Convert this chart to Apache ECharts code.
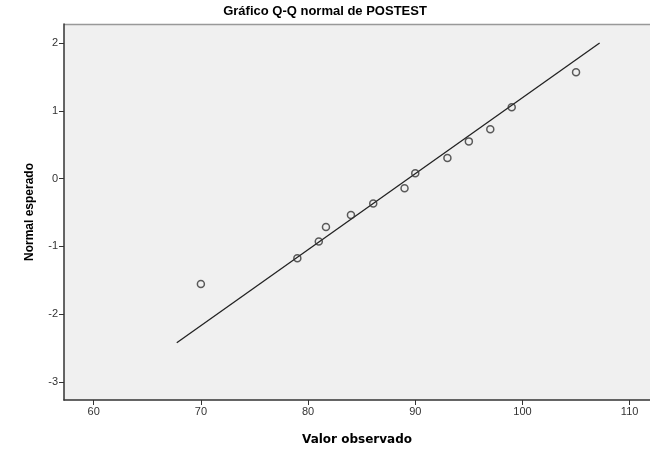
<!DOCTYPE html>
<html>
<head>
<meta charset="utf-8">
<script src="https://cdn.jsdelivr.net/npm/echarts@6/dist/echarts.min.js"></script>
<style>
  html, body { margin: 0; padding: 0; background: #fff; }
  #main { width: 650px; height: 451px; }
</style>
</head>
<body>
<div id="main"></div>
<script>
// valores observados y normal esperado
const observed = [70, 79, 81, 81.67, 84, 86.08, 89, 90, 93, 95, 97, 99, 105];
const expected = [-1.555, -1.176, -0.926, -0.712, -0.535, -0.368, -0.143, 0.078, 0.303, 0.549, 0.729, 1.053, 1.568];
// recta de referencia
const lineX = [67.75, 107.2];
const lineY = [-2.42, 2.0];
const xTicks = [60, 70, 80, 90, 100, 110];
const yTicks = [-3, -2, -1, 0, 1, 2];

const chart = echarts.init(document.getElementById('main'));

const option = {
  backgroundColor: '#ffffff',
  animation: false,
  title: {
    text: 'Gráfico Q-Q normal de POSTEST',
    left: 'center',
    top: 0,
    textStyle: {fontFamily: 'Liberation Sans', fontSize: 13, fontWeight: 'bold', color: '#000'}
  },
  grid: {left: 64, top: 24, right: 0, bottom: 50, show: true, backgroundColor: '#f0f0f0', borderWidth: 0},
  xAxis: {
    type: 'value',
    min: 57.23,
    max: 111.9,
    name: 'Valor observado',
    nameLocation: 'middle',
    nameGap: 34,
    nameTextStyle: {fontFamily: 'DejaVu Sans', fontSize: 12, fontWeight: 'bold', color: '#000'},
    splitLine: {show: false},
    axisLine: {onZero: false, lineStyle: {color: '#333', width: 1.5}},
    axisTick: {show: true, length: 5, customValues: xTicks, lineStyle: {color: '#333'}},
    axisLabel: {customValues: xTicks, fontFamily: 'Liberation Sans', fontSize: 11, color: '#333', margin: 6}
  },
  yAxis: {
    type: 'value',
    min: -3.265,
    max: 2.28,
    name: 'Normal esperado',
    nameLocation: 'middle',
    nameGap: 28,
    nameTextStyle: {fontFamily: 'Liberation Sans', fontSize: 12, fontWeight: 'bold', color: '#000'},
    splitLine: {show: false},
    axisLine: {show: true, onZero: false, lineStyle: {color: '#333', width: 1.5}},
    axisTick: {show: true, length: 5, customValues: yTicks, lineStyle: {color: '#333'}},
    axisLabel: {customValues: yTicks, fontFamily: 'Liberation Sans', fontSize: 11, color: '#333', margin: 6}
  },
  series: [
    {
      type: 'line',
      data: lineX.map((x, i) => [x, lineY[i]]),
      symbol: 'none',
      lineStyle: {color: '#222', width: 1.3},
      z: 2
    },
    {
      type: 'scatter',
      data: observed.map((x, i) => [x, expected[i]]),
      symbol: 'circle',
      symbolSize: 7,
      itemStyle: {color: 'rgba(0,0,0,0)', borderColor: '#333', borderWidth: 1.5},
      z: 3
    }
  ],
  graphic: [{
    type: 'line',
    shape: {x1: 64, y1: 24.5, x2: 650, y2: 24.5},
    style: {stroke: '#999', lineWidth: 1.5}
  }]
};
chart.setOption(option);
</script>
</body>
</html>
